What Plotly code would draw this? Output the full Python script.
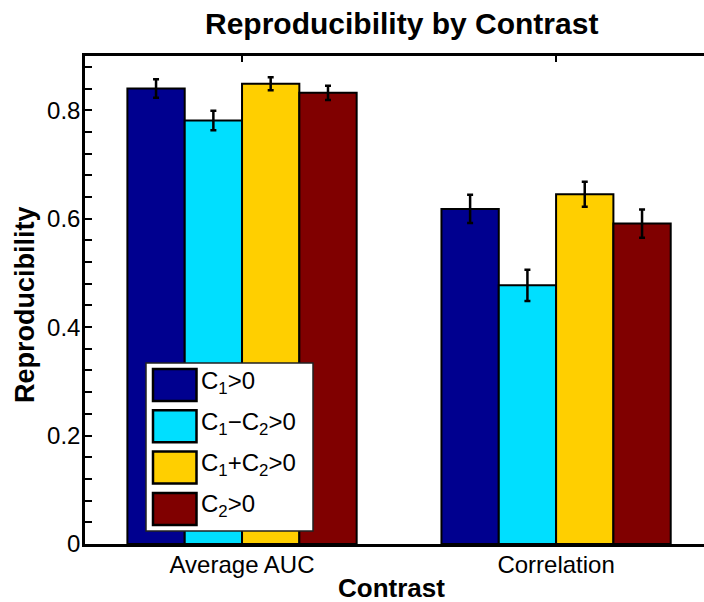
import plotly.graph_objects as go

categories = ["Average AUC", "Correlation"]
series_names = ["C<sub>1</sub>>0", "C<sub>1</sub>\u2212C<sub>2</sub>>0", "C<sub>1</sub>+C<sub>2</sub>>0", "C<sub>2</sub>>0"]
series_values = [
    [0.840, 0.618],
    [0.781, 0.477],
    [0.849, 0.645],
    [0.832, 0.591],
]
series_errors = [
    [0.017, 0.026],
    [0.018, 0.029],
    [0.012, 0.023],
    [0.013, 0.026],
]
series_colors = ["#00008F", "#00DFFF", "#FFCF00", "#800000"]
y_ticks = [0, 0.2, 0.4, 0.6, 0.8]
y_ticktext = ["0", "0.2", "0.4", "0.6", "0.8"]

FONT = "Liberation Sans, Arial, Helvetica, sans-serif"
W, H = 704, 602
ML, MR, MT, MB = 85, 0, 56, 58
PW, PH = W - ML - MR, H - MT - MB

def px(x):
    return (x - ML) / PW

def py(y):
    return (H - MB - y) / PH

fig = go.Figure()
xs = list(range(1, len(categories) + 1))
for name, vals, errs, col in zip(series_names, series_values, series_errors, series_colors):
    fig.add_trace(go.Bar(
        x=xs, y=vals, name=name, showlegend=False,
        marker=dict(color=col, line=dict(color="black", width=2)),
        error_y=dict(type="data", array=errs, color="black", thickness=2.5, width=3),
    ))

fig.update_layout(
    width=W, height=H,
    margin=dict(l=ML, r=MR, t=MT, b=MB),
    paper_bgcolor="white", plot_bgcolor="white",
    barmode="group", bargap=0.27, bargroupgap=0,
    font=dict(family=FONT, size=24, color="black"),
    xaxis=dict(
        range=[0.5, 2.471], tickvals=xs, ticktext=categories,
        showline=True, linecolor="black", linewidth=2.5, mirror="ticks",
        ticks="inside", ticklen=6, tickwidth=2, tickcolor="black",
        showgrid=False, zeroline=False, ticklabelstandoff=-3,
        tickfont=dict(size=24, family=FONT),
    ),
    yaxis=dict(
        range=[0, 0.9], tickvals=y_ticks, ticktext=y_ticktext,
        showline=True, linecolor="black", linewidth=2.5,
        ticks="inside", ticklen=7, tickwidth=2, tickcolor="black",
        minor=dict(ticks="inside", ticklen=7, tickwidth=2, tickcolor="black", dtick=0.04, tick0=0),
        showgrid=False, zeroline=False, ticklabelstandoff=-3,
        tickfont=dict(size=24, family=FONT),
    ),
)

# title and axis titles
fig.add_annotation(xref="paper", yref="paper", x=px(401), y=py(24),
                   text="<b>Reproducibility by Contrast</b>", showarrow=False,
                   xanchor="center", yanchor="middle",
                   font=dict(size=30, family=FONT, color="black"))
fig.add_annotation(xref="paper", yref="paper", x=px(391), y=py(588),
                   text="<b>Contrast</b>", showarrow=False,
                   xanchor="center", yanchor="middle",
                   font=dict(size=26, family=FONT, color="black"))
fig.add_annotation(xref="paper", yref="paper", x=px(25), y=py(305),
                   text="<b>Reproducibility</b>", showarrow=False, textangle=-90,
                   xanchor="center", yanchor="middle",
                   font=dict(size=27, family=FONT, color="black"))

# legend box (manual, to match large swatches)
lx0, lx1, ly0, ly1 = 146, 313, 363, 531
fig.add_shape(type="rect", xref="paper", yref="paper",
              x0=px(lx0), x1=px(lx1), y0=py(ly1), y1=py(ly0),
              fillcolor="white", line=dict(color="#222222", width=1.5), layer="above")
for i, (name, col) in enumerate(zip(series_names, series_colors)):
    top = 369 + i * 41.3
    fig.add_shape(type="rect", xref="paper", yref="paper",
                  x0=px(153), x1=px(196.5), y0=py(top + 32), y1=py(top),
                  fillcolor=col, line=dict(color="black", width=2.5), layer="above")
    fig.add_annotation(xref="paper", yref="paper", x=px(199), y=py(top + 13),
                       text=name, showarrow=False, xanchor="left", yanchor="middle",
                       font=dict(size=24, family=FONT, color="black"))

fig.write_html("out.html")
